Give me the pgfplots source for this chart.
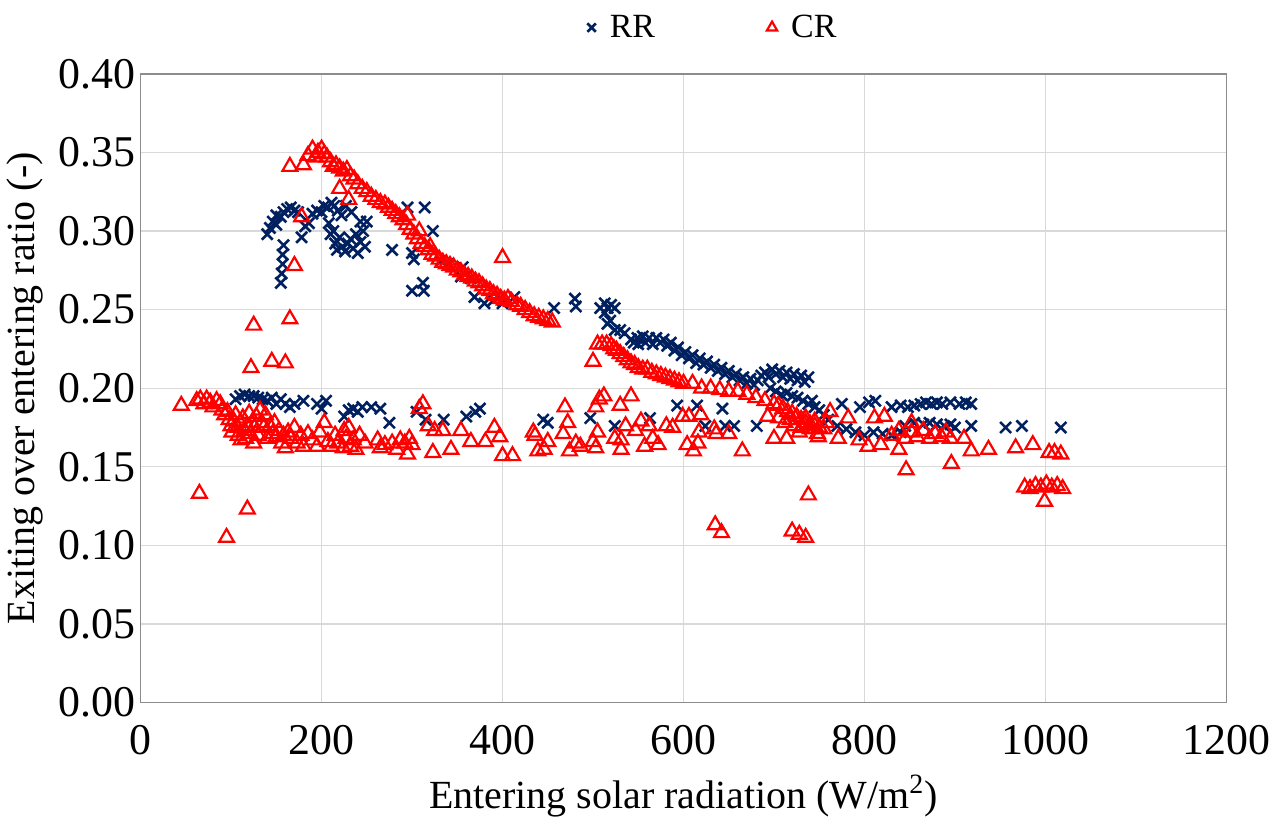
\documentclass[border=0pt]{standalone}
\usepackage{pgfplots}
\pgfplotsset{compat=1.18}
\usepackage{fontspec}
\setmainfont{Liberation Serif}
\definecolor{rrblue}{RGB}{0,32,96}
\definecolor{crred}{RGB}{255,0,0}
\definecolor{gridgray}{RGB}{217,217,217}

\begin{document}
\begin{tikzpicture}
\begin{axis}[
  width=544pt, height=315pt,
  scale only axis,
  xmin=0, xmax=1200, ymin=0, ymax=0.40,
  xtick={0,200,...,1200},
  ytick={0,0.05,...,0.40},
  xmajorgrids, ymajorgrids,
  grid style={gridgray, line width=0.6pt},
  axis line style={black!45, line width=0.7pt},
  major tick length=0pt,
  /pgf/number format/assume math mode=true,
  x tick label style={/pgf/number format/1000 sep=, font=\fontsize{22}{25}\selectfont, yshift=-8pt},
  y tick label style={/pgf/number format/.cd, fixed, fixed zerofill, precision=2, /tikz/.cd, font=\fontsize{22}{25}\selectfont, xshift=1pt},
  xlabel={Entering solar radiation (W/m\textsuperscript{2})},
  ylabel={Exiting over entering ratio (-)},
  label style={font=\fontsize{20}{24}\selectfont},
  xlabel style={yshift=-3pt},
  ylabel style={yshift=1pt},
  legend style={at={(0.528,1.04)}, anchor=south, draw=none, legend columns=2,
    font=\fontsize{17}{20}\selectfont,
    /tikz/every even column/.append style={column sep=54pt}},
  legend image post style={mark size=3pt},
  legend cell align=left,
]
% RR
\addplot[only marks, mark=x, mark size=3.9pt, color=rrblue, line width=1.3pt] coordinates {
(155,0.267)(156,0.273)(157,0.279)(157,0.285)(158,0.291)
(140,0.298)(143,0.302)(146,0.306)(150,0.304)(150,0.310)(155,0.309)(158,0.312)(162,0.314)
(166,0.315)(170,0.313)(174,0.312)(178,0.296)(182,0.303)(186,0.305)(190,0.311)(195,0.313)
(200,0.312)(203,0.316)(207,0.315)(211,0.318)(214,0.316)(218,0.313)(222,0.310)(227,0.316)(233,0.312)
(208,0.305)(210,0.298)(213,0.300)(215,0.292)(217,0.288)(220,0.296)(223,0.290)(226,0.287)
(229,0.292)(232,0.295)(235,0.289)(238,0.298)(240,0.286)(243,0.293)(246,0.300)(248,0.290)
(250,0.306)(243,0.306)
(278,0.288)(295,0.315)(314,0.315)(300,0.286)(302,0.282)(300,0.262)(312,0.267)(313,0.262)
(323,0.300)(332,0.281)(356,0.277)(354,0.271)(340,0.279)(365,0.270)
(369,0.258)(380,0.254)(400,0.254)(413,0.258)(390,0.256)(457,0.251)(480,0.257)(481,0.252)
(508,0.251)(513,0.254)(516,0.251)(520,0.253)(524,0.251)(513,0.248)(516,0.241)(519,0.243)
(524,0.237)(530,0.237)(535,0.235)(542,0.231)(549,0.232)
(545,0.229)(550,0.228)(555,0.233)(558,0.229)(562,0.232)(566,0.228)(570,0.232)(574,0.229)
(578,0.231)(582,0.227)(586,0.229)(590,0.224)(594,0.226)(598,0.221)(602,0.223)(606,0.219)
(610,0.221)(614,0.216)(618,0.219)(622,0.215)(626,0.217)(630,0.213)(634,0.215)(638,0.211)
(642,0.213)(646,0.209)(650,0.211)(654,0.207)(658,0.209)(662,0.205)(666,0.207)(670,0.203)
(674,0.206)(678,0.202)(682,0.205)(686,0.208)(690,0.210)(694,0.207)(698,0.212)(702,0.209)
(706,0.211)(710,0.207)(714,0.210)(718,0.206)(722,0.209)(726,0.205)(730,0.208)(734,0.204)
(738,0.207)(696,0.200)(702,0.198)(708,0.196)(714,0.197)(720,0.195)(726,0.194)(732,0.192)
(738,0.190)(742,0.192)
(745,0.188)(750,0.186)(755,0.183)(760,0.180)(770,0.176)(780,0.174)(790,0.172)(800,0.170)
(810,0.172)(820,0.171)(830,0.170)(840,0.172)
(775,0.190)(795,0.188)(805,0.191)(812,0.192)(830,0.188)(840,0.189)(848,0.188)(855,0.189)
(862,0.190)(868,0.191)(874,0.190)(880,0.191)(886,0.190)(895,0.191)(905,0.190)(912,0.191)(918,0.190)
(845,0.176)(855,0.178)(865,0.177)(872,0.178)(880,0.177)(888,0.176)(895,0.177)(900,0.175)
(918,0.176)(956,0.175)(974,0.176)(1017,0.175)
(105,0.193)(110,0.195)(115,0.196)(120,0.195)(125,0.195)(130,0.194)(135,0.193)(140,0.192)
(145,0.194)(150,0.190)(155,0.193)(160,0.190)(165,0.188)(170,0.190)(180,0.192)(195,0.190)
(200,0.187)(205,0.192)(225,0.182)(230,0.186)(235,0.187)(240,0.185)(245,0.188)(255,0.188)
(265,0.187)(275,0.178)(305,0.185)(315,0.180)(335,0.180)(360,0.182)(370,0.185)(375,0.187)
(445,0.180)(450,0.178)(497,0.181)(524,0.176)(563,0.181)(593,0.189)(615,0.189)(643,0.187)
(624,0.176)(646,0.176)(656,0.176)(681,0.176)
};
% CR
\addplot[only marks, mark=triangle, mark size=4.3pt, color=crred, line width=1.1pt] coordinates {
(45,0.189)(62,0.192)(66,0.193)(70,0.190)(73,0.193)(77,0.191)(80,0.188)(84,0.192)(88,0.190)
(90,0.186)(93,0.183)(96,0.185)(98,0.180)(100,0.176)(101,0.172)(103,0.179)(105,0.183)
(107,0.175)(108,0.170)(110,0.178)(111,0.167)(113,0.181)(115,0.173)(116,0.168)(118,0.176)
(120,0.184)(121,0.171)(123,0.178)(125,0.165)(126,0.175)(128,0.182)(130,0.170)(132,0.186)
(134,0.178)(136,0.175)(138,0.183)(140,0.168)(143,0.176)(146,0.171)(148,0.178)(150,0.169)
(153,0.173)(156,0.165)(158,0.170)(160,0.162)(163,0.172)(166,0.168)(170,0.175)(173,0.165)
(177,0.170)(180,0.163)(185,0.171)(190,0.167)(195,0.163)(198,0.172)(203,0.178)(207,0.166)
(211,0.163)(215,0.170)(218,0.165)(225,0.173)(224,0.162)(227,0.168)(230,0.175)(232,0.163)
(235,0.167)(238,0.161)(242,0.170)(248,0.165)(262,0.167)(265,0.162)(270,0.164)(278,0.165)
(283,0.161)(287,0.167)(292,0.165)(295,0.158)(297,0.168)(300,0.164)(308,0.187)(312,0.190)
(318,0.176)(325,0.173)(334,0.173)(323,0.159)(343,0.161)(354,0.173)(365,0.166)(381,0.166)
(391,0.175)(397,0.169)(400,0.157)(411,0.157)(436,0.170)(439,0.160)(434,0.172)(446,0.161)
(450,0.166)(469,0.188)(472,0.178)(467,0.171)(474,0.160)(481,0.165)(486,0.163)
(500,0.166)(503,0.162)(505,0.172)(503,0.188)(507,0.193)(512,0.195)(524,0.168)(530,0.189)
(531,0.167)(531,0.161)(536,0.176)(542,0.195)(547,0.173)(553,0.179)(557,0.163)(562,0.176)
(566,0.168)(572,0.164)(581,0.176)(588,0.175)(599,0.182)(606,0.182)(604,0.164)(611,0.160)
(616,0.165)(617,0.172)(619,0.183)(634,0.174)(636,0.171)(650,0.171)(665,0.160)(693,0.182)(700,0.168)
(65,0.133)(95,0.105)(118,0.123)(122,0.213)(125,0.240)(145,0.217)(160,0.216)(165,0.244)
(170,0.278)(165,0.341)(180,0.342)(178,0.309)
(185,0.348)(190,0.352)(193,0.347)(196,0.350)(200,0.352)(203,0.349)(206,0.347)(210,0.344)
(213,0.341)(216,0.342)(220,0.340)(224,0.338)(228,0.339)(232,0.335)(236,0.333)(240,0.330)
(245,0.327)(250,0.325)(255,0.322)(260,0.320)(265,0.318)(270,0.317)(274,0.315)(278,0.313)
(282,0.311)(286,0.309)(290,0.307)(294,0.304)(298,0.301)(302,0.298)(306,0.295)(310,0.292)
(314,0.290)(318,0.288)(322,0.285)(326,0.284)(330,0.282)(334,0.280)(338,0.279)(342,0.278)
(346,0.277)(350,0.275)(354,0.274)(358,0.272)(362,0.271)(366,0.270)(370,0.268)(374,0.267)
(378,0.265)(382,0.263)(386,0.262)(390,0.260)(394,0.259)(398,0.257)(402,0.256)(406,0.257)
(410,0.255)(416,0.253)(420,0.252)(425,0.250)(430,0.248)(435,0.246)(440,0.245)(445,0.244)
(450,0.243)(455,0.242)(400,0.283)(220,0.327)(230,0.320)(295,0.310)(308,0.300)(320,0.290)
(500,0.217)(505,0.228)(510,0.228)(515,0.228)(520,0.227)(523,0.225)(526,0.224)(530,0.222)
(534,0.220)(538,0.218)(542,0.216)(546,0.215)(550,0.213)(555,0.212)(560,0.212)(565,0.210)
(570,0.209)(575,0.208)(580,0.207)(585,0.206)(590,0.205)(595,0.204)(600,0.203)(610,0.203)
(620,0.200)(630,0.200)(640,0.199)(650,0.198)(660,0.198)(670,0.196)(680,0.194)(690,0.192)
(700,0.190)(705,0.189)(710,0.187)(715,0.185)(720,0.184)(725,0.182)(730,0.180)(735,0.178)
(740,0.177)(745,0.176)(750,0.175)(730,0.175)(740,0.174)(745,0.179)(735,0.181)(722,0.176)
(728,0.172)(748,0.171)(755,0.174)(758,0.178)(718,0.180)(712,0.178)
(635,0.113)(642,0.108)(720,0.109)(728,0.107)(735,0.105)(738,0.132)
(705,0.181)(714,0.168)(749,0.169)(762,0.185)(771,0.168)(782,0.181)(794,0.167)(804,0.163)
(811,0.181)(818,0.164)(822,0.182)(838,0.161)(846,0.148)(852,0.178)(830,0.170)(838,0.173)
(845,0.168)(852,0.172)(858,0.169)(865,0.173)(872,0.168)(878,0.171)(885,0.169)(890,0.172)
(895,0.168)(896,0.152)(910,0.168)(918,0.160)(937,0.161)(967,0.162)(986,0.164)(1004,0.159)
(1010,0.159)(1017,0.158)(977,0.137)(983,0.136)(989,0.138)(995,0.137)(1001,0.139)(1007,0.137)
(1013,0.138)(1019,0.136)(999,0.128)
};
\legend{\hspace{5pt}RR, \hspace{5pt}CR}
\end{axis}
\path (current axis.north) ++(0,37pt);
\end{tikzpicture}
\end{document}
